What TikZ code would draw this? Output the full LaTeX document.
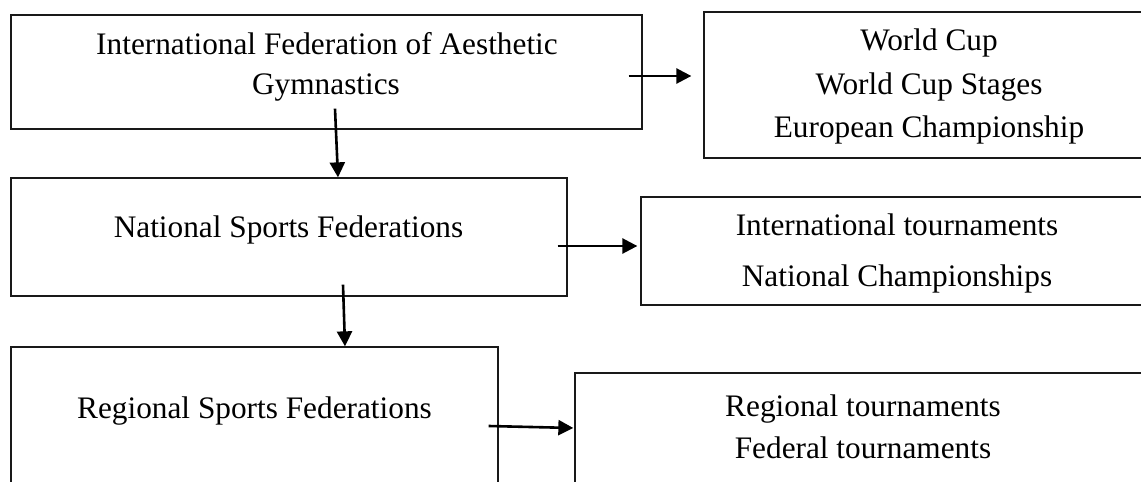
\documentclass[tikz,border=0pt]{standalone}
\usepackage{fontspec}
\setmainfont{Liberation Serif}
\usetikzlibrary{arrows.meta,calc}
\begin{document}
\begin{tikzpicture}[x=1pt,y=-1pt,
  box/.style={draw=black!90, line width=1.3pt, rectangle, inner sep=0pt},
  txt/.style={inner sep=0pt, anchor=base, font=\fontsize{31.3}{38}\selectfont},
  arr/.style={line width=2.6pt, -{Triangle[length=15pt,width=15pt]}}]
\useasboundingbox (0,0) rectangle (1141,482);
\clip (0,0) rectangle (1141,482);
% boxes
\node[box, minimum width=631pt, minimum height=114pt] (A) at (326.5,72) {};
\node[box, minimum width=448pt, minimum height=146pt] (B) at (928,85) {};
\node[box, minimum width=556pt, minimum height=118pt] (C) at (289,237) {};
\node[box, minimum width=511pt, minimum height=108pt] (D) at (896.5,251) {};
\node[box, minimum width=487pt, minimum height=163pt] (E) at (254.5,428.5) {};
\node[box, minimum width=577pt, minimum height=137pt] (F) at (863.5,441.5) {};
% texts
\node[txt] (a1) at (327,54) {International Federation of Aesthetic};
\node[txt] (a2) at (326,94) {Gymnastics};
\node[txt] (b1) at (929,50) {World Cup};
\node[txt] (b2) at (929,94) {World Cup Stages};
\node[txt] (b3) at (929,137) {European Championship};
\node[txt] (c1) at (288.5,237) {National Sports Federations};
\node[txt] (d1) at (897,235) {International tournaments};
\node[txt] (d2) at (897,286) {National Championships};
\node[txt] (e1) at (254.5,418) {Regional Sports Federations};
\node[txt] (f1) at (863,416) {Regional tournaments};
\node[txt] (f2) at (863,458) {Federal tournaments};
% arrows
\draw[arr] ($(A.east)+(-14,4)$) -- ($(B.west)+(-12,-9)$);
\draw[arr] ($(A.south)+(8.5,-21)$) -- ($(C.north)+(49,0)$);
\draw[arr] ($(C.east)+(-10,9)$) -- ($(D.west)+(-3,-5)$);
\draw[arr] ($(C.south)+(54,-12)$) -- ($(E.north)+(90.5,0)$);
\draw[arr] ($(E.east)+(-10,-2.5)$) -- ($(F.west)+(-1,-13.5)$);
\end{tikzpicture}
\end{document}
